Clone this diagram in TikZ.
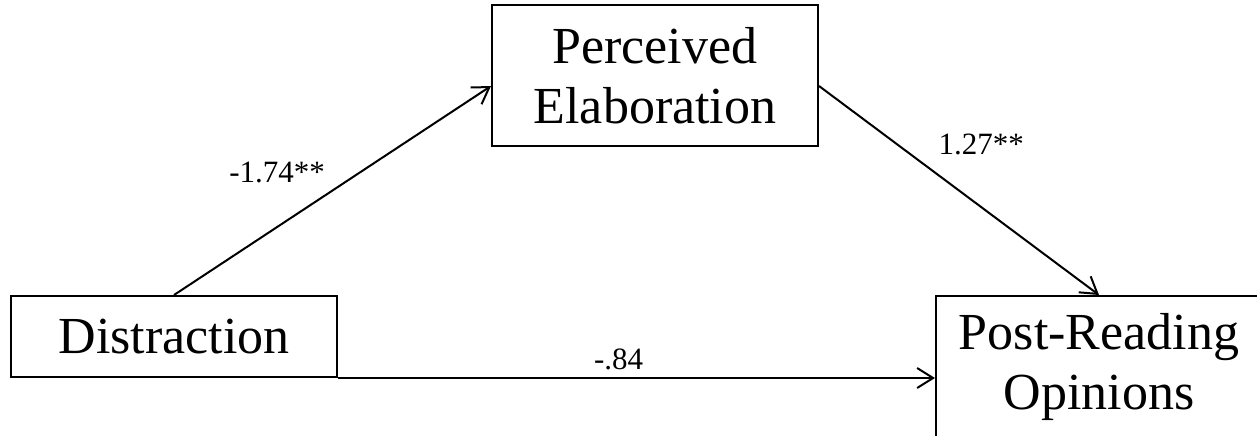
\documentclass[tikz,border=0pt]{standalone}
\usepackage{fontspec}
\setmainfont{Liberation Serif}
\usetikzlibrary{positioning,arrows.meta}

\begin{document}
\begin{tikzpicture}[
				varbox/.style={rectangle, draw=black, line width=1pt, text width=150pt, align=center, minimum width=163pt, inner sep=0pt, font=\fontsize{26}{30}\selectfont},
				coef/.style={font=\fontsize{15.5}{18}\selectfont},
				path/.style={line width=1pt, -{Straight Barb[length=8pt, width=10pt, line width=1pt]}}
			]
			\useasboundingbox (0,0) rectangle (628.5pt,-217.5pt);
			\clip (0,0) rectangle (628.5pt,-217.5pt);
			\node[varbox, minimum height=40.5pt] (distraction) at (87pt,-168.25pt) {Distraction};
			\node[varbox, minimum height=70.5pt] (elaboration) [above right=74pt and 76.5pt of distraction] {Perceived\\Elaboration};
			\node[varbox, minimum height=70.5pt] (opinions) [below right=74pt and 58pt of elaboration] {Post-Reading\\Opinions};
			\begin{scope}
			\draw[path] (distraction.north) -- ([yshift=-5.25pt]elaboration.west) node[coef, pos=0.5, above left] {-1.74**};
			\draw[path] ([yshift=-5.25pt]elaboration.east) -- (opinions.north) node[coef, pos=0.4, above right, yshift=3.5pt] {1.27**};
			\draw[path, line width=1.3pt] (distraction.south east) -- (distraction.south east -| opinions.west) node[coef, pos=0.47, above] {-.84};
			\end{scope}
			\end{tikzpicture}
\end{document}
